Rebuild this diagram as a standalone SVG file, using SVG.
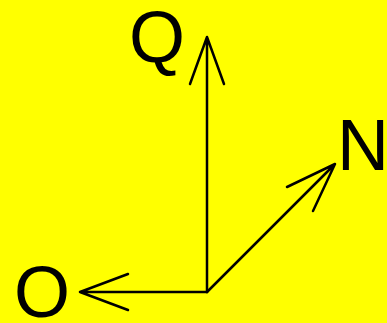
<svg xmlns="http://www.w3.org/2000/svg" width="387" height="323" viewBox="0 0 387 323">
<style>
.ln{fill:none;stroke:#000;stroke-width:2.5;stroke-linecap:round;stroke-linejoin:round}
.lb{font-family:"Liberation Sans",Arial,sans-serif;font-size:72px;fill:#000}
</style>
<rect width="387" height="323" fill="#ffff00"/>
<g id="connectors">
<path class="ln" d="M207,292 L207,37 M190,84 L207,37 L224,84"/>
<path class="ln" d="M207,292 L335,164 M287,187 L335,164 L313,211"/>
<path class="ln" d="M207,292 L80,292 M128,274 L80,292 L128,310"/>
</g>
<g id="Q"><text class="lb" x="129" y="62">Q</text></g>
<g id="N"><text class="lb" x="337" y="170">N</text></g>
<g id="O"><text class="lb" x="14" y="317">O</text></g>
</svg>
